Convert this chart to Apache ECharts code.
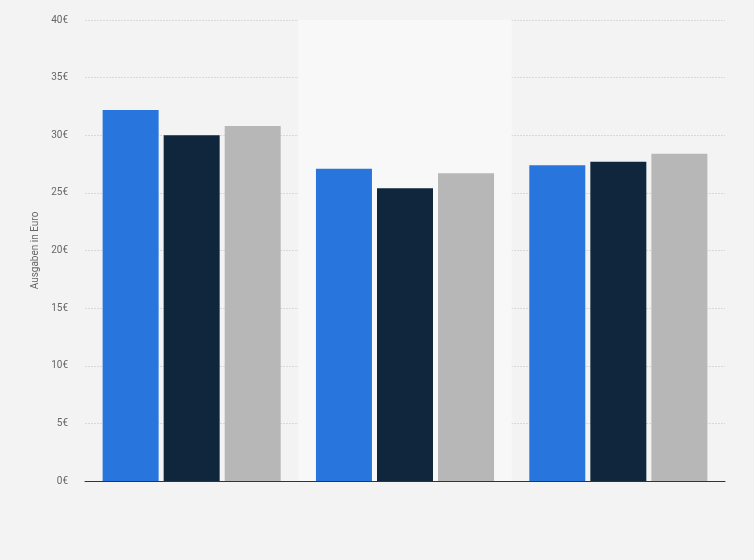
<!DOCTYPE html>
<html>
<head>
<meta charset="utf-8">
<script src="https://cdn.jsdelivr.net/npm/echarts@6/dist/echarts.min.js"></script>
<style>
html,body{margin:0;padding:0;background:#f3f3f3;}
#chart{width:754px;height:560px;}
</style>
</head>
<body>
<div id="chart"></div>
<script>
var categories = ['A', 'B', 'C'];
var seriesBlue = [32.2, 27.1, 27.4];
var seriesDark = [30.0, 25.4, 27.7];
var seriesGray = [30.8, 26.7, 28.4];
var yTicks = [0, 5, 10, 15, 20, 25, 30, 35, 40];

var chart = echarts.init(document.getElementById('chart'));
chart.setOption({
    backgroundColor: '#f3f3f3',
    animation: false,
    grid: {
        left: 85,
        right: 29,
        top: 20,
        bottom: 79
    },
    xAxis: {
        type: 'category',
        data: categories,
        axisLabel: { show: false },
        axisTick: { show: false },
        axisLine: { lineStyle: { color: '#333', width: 1 } },
        splitArea: {
            show: true,
            areaStyle: { color: ['rgba(0,0,0,0)', '#f8f8f8', 'rgba(0,0,0,0)'] }
        }
    },
    yAxis: {
        type: 'value',
        min: yTicks[0],
        max: yTicks[yTicks.length - 1],
        interval: 5,
        name: 'Ausgaben in Euro',
        nameLocation: 'middle',
        nameGap: 45,
        nameMoveOverlap: false,
        nameTextStyle: { color: '#666', fontSize: 10, fontFamily: 'Roboto' },
        axisLine: { show: false },
        axisTick: { show: false },
        axisLabel: {
            color: '#666',
            fontSize: 10,
            fontFamily: 'Roboto',
            margin: 17,
            formatter: function (v) { return v + '€'; }
        },
        splitLine: { lineStyle: { color: '#d8d8d8', type: [2, 1] } }
    },
    series: [{
        type: 'bar',
        data: seriesBlue,
        barWidth: 56,
        barGap: '9%',
        itemStyle: { color: '#2876dd' }
    }, {
        type: 'bar',
        data: seriesDark,
        barWidth: 56,
        barGap: '9%',
        itemStyle: { color: '#0f263d' }
    }, {
        type: 'bar',
        data: seriesGray,
        barWidth: 56,
        barGap: '9%',
        itemStyle: { color: '#b7b7b7' }
    }]
});
</script>
</body>
</html>
